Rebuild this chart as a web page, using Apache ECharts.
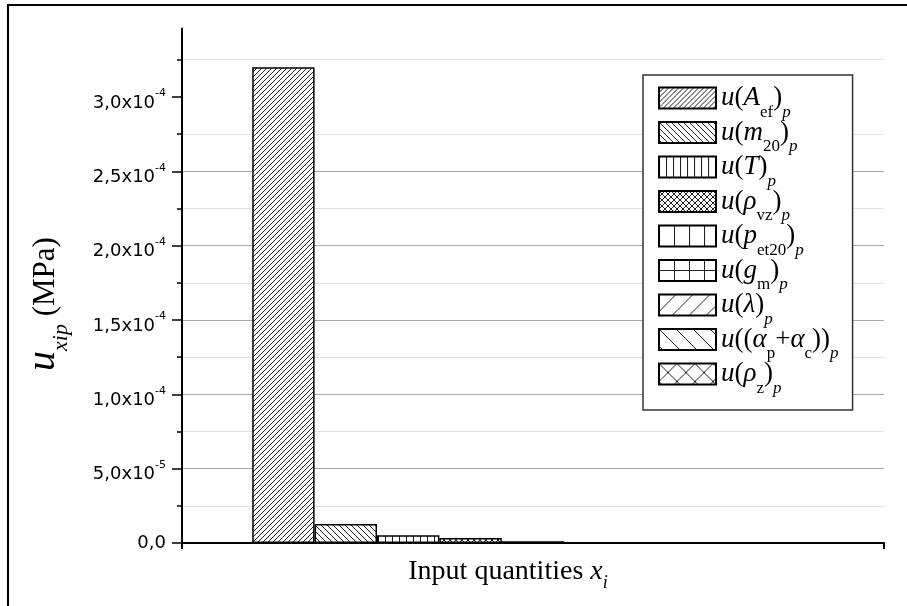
<!DOCTYPE html>
<html>
<head>
<meta charset="utf-8">
<script src="https://cdn.jsdelivr.net/npm/echarts@6.0.0/dist/echarts.min.js"></script>
<style>
html,body{margin:0;padding:0;background:#fff;}
#chart{width:907px;height:606px;}
</style>
</head>
<body>
<div id="chart"></div>
<script>
// ---- data ----
const categories = ['inputs'];
const seriesNames = ['Aef', 'm20', 'T', 'rho_vz', 'p_et20', 'g_m', 'lambda', 'alpha', 'rho_z'];
const seriesValues = [3.2e-4, 1.27e-5, 5.2e-6, 3.4e-6, 1.1e-6, 5e-7, 1.5e-7, 1e-7, 5e-8];
const legendLabels = [
  '{i|u}{r|(}{i|A}{s|ef}{r|)}{si|p}',
  '{i|u}{r|(}{i|m}{s|20}{r|)}{si|p}',
  '{i|u}{r|(}{i|T}{r|)}{si|p}',
  '{i|u}{r|(}{i|ρ}{s|vz}{r|)}{si|p}',
  '{i|u}{r|(}{i|p}{s|et20}{r|)}{si|p}',
  '{i|u}{r|(}{i|g}{s|m}{r|)}{si|p}',
  '{i|u}{r|(}{i|λ}{r|)}{si|p}',
  '{i|u}{r|((}{i|α}{s|p}{r|+}{i|α}{s|c}{r|))}{si|p}',
  '{i|u}{r|(}{i|ρ}{s|z}{r|)}{si|p}'
];
const yTickValues = [0, 5e-5, 1e-4, 1.5e-4, 2e-4, 2.5e-4, 3e-4];
const yTickLabels = ['0,0', '5,0x10|-5', '1,0x10|-4', '1,5x10|-4', '2,0x10|-4', '2,5x10|-4', '3,0x10|-4'];
const yMax = 3.46e-4;

// ---- hatch patterns ----
function makePattern(kind, w, h) {
  const c = document.createElement('canvas');
  c.width = w; c.height = h;
  const ctx = c.getContext('2d');
  ctx.fillStyle = '#fff';
  ctx.fillRect(0, 0, w, h);
  ctx.strokeStyle = '#222';
  ctx.lineWidth = 1;
  ctx.beginPath();
  if (kind === 'fwd' || kind === 'cross') {
    for (let k = -1; k <= 1; k++) { ctx.moveTo(k * w, h); ctx.lineTo(k * w + w, 0); }
  }
  if (kind === 'back' || kind === 'cross') {
    for (let k = -1; k <= 1; k++) { ctx.moveTo(k * w, 0); ctx.lineTo(k * w + w, h); }
  }
  if (kind === 'vert' || kind === 'grid') {
    ctx.moveTo(0.5, 0); ctx.lineTo(0.5, h);
  }
  if (kind === 'grid') {
    ctx.moveTo(0, 0.5); ctx.lineTo(w, 0.5);
  }
  ctx.stroke();
  return { image: c, repeat: 'repeat' };
}
const patterns = [
  makePattern('fwd', 5, 5),
  makePattern('back', 6, 6),
  makePattern('vert', 7, 7),
  makePattern('cross', 6, 6),
  makePattern('vert', 15, 15),
  makePattern('grid', 15, 10),
  makePattern('fwd', 17, 17),
  makePattern('back', 17, 17),
  makePattern('cross', 18, 18)
];

const serif = 'Liberation Serif';
const sans = 'DejaVu Sans';

const chart = echarts.init(document.getElementById('chart'), null, { renderer: 'canvas' });

const series = seriesNames.map((n, i) => ({
  name: n,
  type: 'bar',
  data: [seriesValues[i]],
  barGap: '0%',
  barCategoryGap: '20%',
  itemStyle: { color: patterns[i], borderColor: '#000', borderWidth: 1.5 },
  emphasis: { disabled: true },
  animation: false
}));

const option = {
  animation: false,
  grid: { left: 182, right: 23, top: 28.5, bottom: 63, containLabel: false },
  xAxis: {
    type: 'category',
    data: categories,
    axisLine: { lineStyle: { color: '#000', width: 2 } },
    axisTick: { show: true, inside: false, length: 6, lineStyle: { color: '#000', width: 2 } },
    axisLabel: { show: false },
    splitLine: { show: false }
  },
  yAxis: {
    type: 'value',
    min: 0,
    max: yMax,
    interval: 5e-5,
    axisLine: { show: true, lineStyle: { color: '#000', width: 2 } },
    axisTick: { show: true, inside: false, length: 10, customValues: yTickValues, lineStyle: { color: '#000', width: 1.5 } },
    minorTick: { show: true, splitNumber: 2, length: 5, lineStyle: { color: '#000', width: 1.5 } },
    splitLine: { show: true, showMinLine: false, showMaxLine: false, lineStyle: { color: '#a8a8a8', width: 1 } },
    minorSplitLine: { show: true, lineStyle: { color: '#e2e2e2', width: 1 } },
    axisLabel: {
      customValues: yTickValues,
      margin: 16,
      formatter: function (v) {
        let idx = -1;
        for (let k = 0; k < yTickValues.length; k++) {
          if (Math.abs(yTickValues[k] - v) < 1e-9) idx = k;
        }
        if (idx < 0) return '';
        const s = yTickLabels[idx];
        if (s.indexOf('|') < 0) return '{z|' + s + '}';
        const parts = s.split('|');
        return '{a|' + parts[0] + '}{e|' + parts[1] + '}';
      },
      rich: {
        z: { fontFamily: sans, fontSize: 18, color: '#000', lineHeight: 18 },
        a: { fontFamily: sans, fontSize: 18, color: '#000', lineHeight: 18, padding: [6, 0, 0, 0], verticalAlign: 'top' },
        e: { fontFamily: sans, fontSize: 11, color: '#000', lineHeight: 11, verticalAlign: 'top' }
      }
    }
  },
  legend: {
    orient: 'vertical',
    left: 643,
    top: 75,
    padding: [0, 14, 13, 15],
    itemWidth: 57,
    itemHeight: 21,
    itemGap: -11.5,
    icon: 'rect',
    selectedMode: false,
    backgroundColor: '#fff',
    borderColor: '#333',
    borderWidth: 1.5,
    itemStyle: { borderColor: '#000', borderWidth: 2 },
    formatter: function (name) { return legendLabels[seriesNames.indexOf(name)]; },
    textStyle: {
      color: '#000',
      rich: {
        r: { fontFamily: serif, fontSize: 27, lineHeight: 46, verticalAlign: 'middle', color: '#000' },
        i: { fontFamily: serif, fontSize: 27, fontStyle: 'italic', lineHeight: 46, verticalAlign: 'middle', color: '#000' },
        s: { fontFamily: serif, fontSize: 17, lineHeight: 17, padding: [29, 0, 0, 0], verticalAlign: 'top', color: '#000' },
        si: { fontFamily: serif, fontSize: 17, fontStyle: 'italic', lineHeight: 17, padding: [29, 0, 0, 0], verticalAlign: 'top', color: '#000' }
      }
    },
    data: seriesNames
  },
  graphic: [
    {
      type: 'rect',
      silent: true,
      shape: { x: 8, y: 5, width: 930, height: 640 },
      style: { fill: 'none', stroke: '#000', lineWidth: 2 },
      z: 100
    },
    {
      type: 'text',
      silent: true,
      x: 40.75,
      y: 304,
      rotation: Math.PI / 2,
      style: {
        text: '{u|u}{x|xip}{m| (MPa)}',
        align: 'center',
        verticalAlign: 'middle',
        rich: {
          u: { fontFamily: serif, fontSize: 40, fontStyle: 'italic', lineHeight: 40, padding: [2.4, 0, 0, 0], verticalAlign: 'top', fill: '#000' },
          x: { fontFamily: serif, fontSize: 22, fontStyle: 'italic', lineHeight: 22, padding: [29.5, 0, 0, 0], verticalAlign: 'top', fill: '#000' },
          m: { fontFamily: serif, fontSize: 31, lineHeight: 31, padding: [10, 0, 0, 0], verticalAlign: 'top', fill: '#000' }
        }
      }
    },
    {
      type: 'text',
      silent: true,
      x: 508,
      y: 557.5,
      style: {
        text: '{r|Input quantities }{i|x}{s|i}',
        align: 'center',
        verticalAlign: 'top',
        rich: {
          r: { fontFamily: serif, fontSize: 28, lineHeight: 28, verticalAlign: 'top', fill: '#000' },
          i: { fontFamily: serif, fontSize: 28, fontStyle: 'italic', lineHeight: 28, verticalAlign: 'top', fill: '#000' },
          s: { fontFamily: serif, fontSize: 18, fontStyle: 'italic', lineHeight: 18, padding: [16.4, 0, 0, 0], verticalAlign: 'top', fill: '#000' }
        }
      }
    }
  ],
  series: series
};
chart.setOption(option);
</script>
</body>
</html>
